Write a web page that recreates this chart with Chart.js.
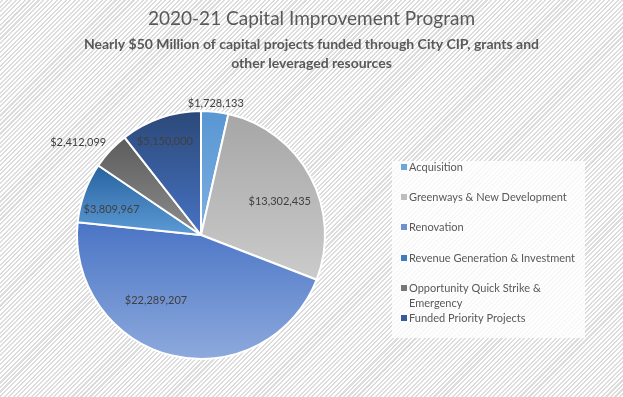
<!DOCTYPE html>
<html>
<head>
<meta charset="utf-8">
<script src="https://cdn.jsdelivr.net/npm/chart.js@4/dist/chart.umd.min.js"></script>
<style>
  html, body { margin: 0; padding: 0; }
  body {
    width: 623px; height: 397px; overflow: hidden;
    background: repeating-linear-gradient(-45deg, #ffffff 0px, #ffffff 1.7px, #dcdcdc 1.7px, #dcdcdc 3.2px);
  }
  #wrap { position: relative; width: 623px; height: 397px; }
</style>
</head>
<body>
<div id="wrap"><canvas id="chart"></canvas></div>
<script>
const titleText = '2020-21 Capital Improvement Program';
const subtitleLines = [
    'Nearly $50 Million of capital projects funded through City CIP, grants and',
    'other leveraged resources'
];
const categories = [
    'Acquisition',
    'Greenways & New Development',
    'Renovation',
    'Revenue Generation & Investment',
    'Opportunity Quick Strike & Emergency',
    'Funded Priority Projects'
];
const amounts = [1728133, 13302435, 22289207, 3809967, 2412099, 5150000];
const legendLines = [
    ['Acquisition'],
    ['Greenways & New Development'],
    ['Renovation'],
    ['Revenue Generation & Investment'],
    ['Opportunity Quick Strike &', 'Emergency'],
    ['Funded Priority Projects']
];
// gradient top -> bottom for each slice
const topColors = ['#5896d2', '#a6a6a6', '#4a74c5', '#27629f', '#5c5c5c', '#2b4878'];
const bottomColors = ['#7db0e2', '#cbcbcb', '#8eaadd', '#5c9bd6', '#8c8c8c', '#4773c3'];
const legendColors = ['#6fa6da', '#bdbdbd', '#6f8fd0', '#3f7bbf', '#777777', '#38599a'];

const FONT = 'Lato, "Open Sans", sans-serif';

function fmt(v) { return '$' + v.toLocaleString('en-US'); }

// vertical gradient spanning each slice's own extent
function sliceFill(ctx) {
    const chart = ctx.chart;
    const a = chart.chartArea;
    const i = ctx.dataIndex;
    if (!a) return topColors[i];
    const cx = (a.left + a.right) / 2, cy = (a.top + a.bottom) / 2;
    const r = Math.min(a.right - a.left, a.bottom - a.top) / 2;
    const total = amounts.reduce((s, v) => s + v, 0);
    let before = 0;
    for (let k = 0; k < i; k++) before += amounts[k];
    const s = -Math.PI / 2 + before / total * Math.PI * 2;
    const e = s + amounts[i] / total * Math.PI * 2;
    let ys = [cy, cy + r * Math.sin(s), cy + r * Math.sin(e)];
    for (const t of [Math.PI / 2, Math.PI * 1.5, Math.PI * 2.5]) {
        if (t > s && t < e) ys.push(cy + r * Math.sin(t));
    }
    const y0 = Math.min(...ys), y1 = Math.max(...ys);
    const g = chart.ctx.createLinearGradient(0, y0, 0, y1);
    g.addColorStop(0, topColors[i]);
    g.addColorStop(1, bottomColors[i]);
    return g;
}

const headerPlugin = {
    id: 'header',
    afterDraw(chart) {
        const c = chart.ctx;
        const mid = chart.width / 2;
        c.save();
        c.textAlign = 'center';
        c.textBaseline = 'middle';
        c.fillStyle = '#595959';
        c.font = '19px ' + FONT;
        c.fillText(titleText, mid, 19);
        c.font = 'bold 14px ' + FONT;
        subtitleLines.forEach((t, k) => c.fillText(t, mid, 44 + k * 19));
        c.restore();
    }
};

const sliceLabels = {
    id: 'sliceLabels',
    afterDatasetsDraw(chart, args, opts) {
        const c = chart.ctx;
        const meta = chart.getDatasetMeta(0);
        c.save();
        c.font = '11px ' + FONT;
        c.fillStyle = '#404040';
        c.textAlign = 'center';
        c.textBaseline = 'middle';
        meta.data.forEach((arc, i) => {
            const p = arc.getProps(['x', 'y', 'startAngle', 'endAngle', 'outerRadius'], true);
            const ang = (p.startAngle + p.endAngle) / 2 + opts.angleShift[i] * Math.PI / 180;
            const rr = p.outerRadius * opts.radius[i];
            c.fillText(fmt(amounts[i]), p.x + Math.cos(ang) * rr, p.y + Math.sin(ang) * rr);
        });
        c.restore();
    }
};

const boxLegend = {
    id: 'boxLegend',
    afterDraw(chart, args, opts) {
        const c = chart.ctx;
        c.save();
        c.fillStyle = 'rgba(255,255,255,0.8)';
        c.fillRect(opts.x, opts.y, opts.w, opts.h);
        c.font = '11px ' + FONT;
        c.textBaseline = 'middle';
        c.textAlign = 'left';
        opts.rows.forEach((y, i) => {
            c.fillStyle = legendColors[i];
            c.fillRect(opts.x + 9, y - 3, 6, 6);
            c.fillStyle = '#595959';
            legendLines[i].forEach((t, k) => c.fillText(t, opts.x + 17, y + k * 15));
        });
        c.restore();
    }
};

new Chart(document.getElementById('chart'), {
    type: 'pie',
    data: {
        labels: categories,
        datasets: [{
            data: amounts,
            backgroundColor: sliceFill,
            borderColor: '#ffffff',
            borderWidth: 2
        }]
    },
    options: {
        responsive: true,
        maintainAspectRatio: false,
        animation: false,
        layout: { padding: { left: 76, right: 297, top: 110, bottom: 37 } },
        plugins: {
            legend: { display: false },
            tooltip: { enabled: false },
            sliceLabels: {
                radius: [1.07, 0.69, 0.64, 0.75, 1.24, 0.81],
                angleShift: [0, 5, 21, -4, -6, -2]
            },
            boxLegend: {
                x: 392, y: 161, w: 193, h: 177,
                rows: [167, 197, 227, 258, 288, 318]
            }
        }
    },
    plugins: [headerPlugin, sliceLabels, boxLegend]
});
</script>
</body>
</html>
